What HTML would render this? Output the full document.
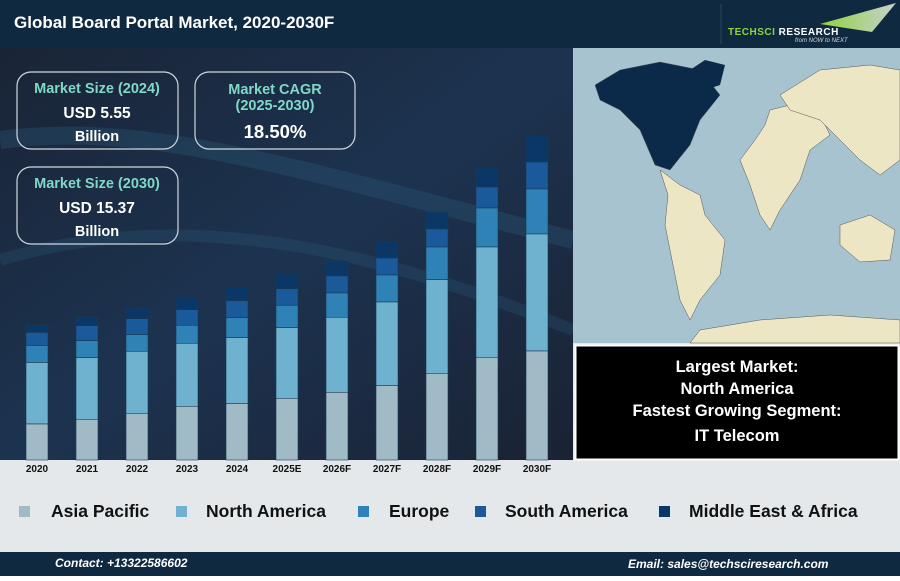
<!DOCTYPE html><html><head><style>
body{margin:0;width:900px;height:576px;overflow:hidden;font-family:"Liberation Sans",sans-serif;}
</style></head><body>
<svg width="900" height="576" xmlns="http://www.w3.org/2000/svg" font-family="Liberation Sans, sans-serif">
<defs>
<linearGradient id="bg" x1="0" y1="0" x2="1" y2="1">
<stop offset="0" stop-color="#1a2436"/><stop offset="0.5" stop-color="#1c3350"/><stop offset="1" stop-color="#1a2233"/>
</linearGradient>
<linearGradient id="lg" x1="0" y1="0" x2="1" y2="0">
<stop offset="0" stop-color="#8fd43a"/><stop offset="1" stop-color="#c8d0d0"/></linearGradient>
</defs>
<rect width="900" height="576" fill="#e4e8ea"/>
<rect x="0" y="0" width="900" height="48" fill="#0f2a40"/>
<text x="14" y="28" fill="#fff" font-size="17" font-weight="bold">Global Board Portal Market, 2020-2030F</text>
<line x1="721" y1="4" x2="721" y2="44" stroke="#2a4258"/>
<polygon points="820,24 896,3 872,32" fill="url(#lg)"/>
<text x="728" y="35" fill="#8fd43a" font-size="10" font-weight="bold" letter-spacing="0.5">TECHSCI <tspan fill="#fff">RESEARCH</tspan></text>
<text x="795" y="42" fill="#cfd8e0" font-size="6" font-style="italic">from NOW to NEXT</text>
<rect x="0" y="48" width="573" height="412" fill="url(#bg)"/>
<path d="M0,140 C150,120 300,170 573,240" stroke="#2a5878" stroke-width="18" fill="none" opacity="0.35"/>
<path d="M0,260 C200,200 400,260 573,330" stroke="#2a5878" stroke-width="12" fill="none" opacity="0.3"/>
<g fill="none" stroke="#d0d8e0" stroke-width="1.2">
<rect x="17" y="72" width="161" height="77" rx="14"/>
<rect x="195" y="72" width="160" height="77" rx="14"/>
<rect x="17" y="167" width="161" height="77" rx="14"/>
</g>
<g font-weight="bold" text-anchor="middle" font-size="14.5">
<text x="97" y="93" fill="#7fd8c8">Market Size (2024)</text>
<text x="97" y="118" fill="#fff" font-size="15.5">USD 5.55</text>
<text x="97" y="141" fill="#fff">Billion</text>
<text x="275" y="94" fill="#7fd8c8">Market CAGR</text>
<text x="275" y="110" fill="#7fd8c8">(2025-2030)</text>
<text x="275" y="138" fill="#fff" font-size="18.5">18.50%</text>
<text x="97" y="188" fill="#7fd8c8">Market Size (2030)</text>
<text x="97" y="213" fill="#fff" font-size="15.5">USD 15.37</text>
<text x="97" y="236" fill="#fff">Billion</text>
</g>
<g stroke="#1a3a55" stroke-width="0.6">
<rect x="26" y="325" width="22" height="7.5" fill="#0b3766"/><rect x="26" y="332.5" width="22" height="13" fill="#1a5a9a"/><rect x="26" y="345.5" width="22" height="17" fill="#2e82b5"/><rect x="26" y="362.5" width="22" height="61.5" fill="#6fb2d0"/><rect x="26" y="424" width="22" height="36" fill="#a0bac6"/>
<rect x="76" y="317" width="22" height="8.7" fill="#0b3766"/><rect x="76" y="325.7" width="22" height="15" fill="#1a5a9a"/><rect x="76" y="340.7" width="22" height="17" fill="#2e82b5"/><rect x="76" y="357.7" width="22" height="61.6" fill="#6fb2d0"/><rect x="76" y="419.3" width="22" height="40.7" fill="#a0bac6"/>
<rect x="126" y="308" width="22" height="10.7" fill="#0b3766"/><rect x="126" y="318.7" width="22" height="16" fill="#1a5a9a"/><rect x="126" y="334.7" width="22" height="16.6" fill="#2e82b5"/><rect x="126" y="351.3" width="22" height="62" fill="#6fb2d0"/><rect x="126" y="413.3" width="22" height="46.7" fill="#a0bac6"/>
<rect x="176" y="297" width="22" height="12.7" fill="#0b3766"/><rect x="176" y="309.7" width="22" height="15.6" fill="#1a5a9a"/><rect x="176" y="325.3" width="22" height="18" fill="#2e82b5"/><rect x="176" y="343.3" width="22" height="63" fill="#6fb2d0"/><rect x="176" y="406.3" width="22" height="53.7" fill="#a0bac6"/>
<rect x="226" y="287" width="22" height="13.7" fill="#0b3766"/><rect x="226" y="300.7" width="22" height="17" fill="#1a5a9a"/><rect x="226" y="317.7" width="22" height="20" fill="#2e82b5"/><rect x="226" y="337.7" width="22" height="66" fill="#6fb2d0"/><rect x="226" y="403.7" width="22" height="56.3" fill="#a0bac6"/>
<rect x="276" y="274" width="22" height="14.7" fill="#0b3766"/><rect x="276" y="288.7" width="22" height="16.6" fill="#1a5a9a"/><rect x="276" y="305.3" width="22" height="22.4" fill="#2e82b5"/><rect x="276" y="327.7" width="22" height="70.6" fill="#6fb2d0"/><rect x="276" y="398.3" width="22" height="61.7" fill="#a0bac6"/>
<rect x="326" y="261" width="22" height="15" fill="#0b3766"/><rect x="326" y="276" width="22" height="17" fill="#1a5a9a"/><rect x="326" y="293" width="22" height="24.3" fill="#2e82b5"/><rect x="326" y="317.3" width="22" height="75" fill="#6fb2d0"/><rect x="326" y="392.3" width="22" height="67.7" fill="#a0bac6"/>
<rect x="376" y="242" width="22" height="16" fill="#0b3766"/><rect x="376" y="258" width="22" height="17" fill="#1a5a9a"/><rect x="376" y="275" width="22" height="27" fill="#2e82b5"/><rect x="376" y="302" width="22" height="83.5" fill="#6fb2d0"/><rect x="376" y="385.5" width="22" height="74.5" fill="#a0bac6"/>
<rect x="426" y="212" width="22" height="17" fill="#0b3766"/><rect x="426" y="229" width="22" height="18" fill="#1a5a9a"/><rect x="426" y="247" width="22" height="32.7" fill="#2e82b5"/><rect x="426" y="279.7" width="22" height="93.6" fill="#6fb2d0"/><rect x="426" y="373.3" width="22" height="86.7" fill="#a0bac6"/>
<rect x="476" y="168" width="22" height="19" fill="#0b3766"/><rect x="476" y="187" width="22" height="21" fill="#1a5a9a"/><rect x="476" y="208" width="22" height="39" fill="#2e82b5"/><rect x="476" y="247" width="22" height="110.3" fill="#6fb2d0"/><rect x="476" y="357.3" width="22" height="102.7" fill="#a0bac6"/>
<rect x="526" y="136" width="22" height="26" fill="#0b3766"/><rect x="526" y="162" width="22" height="27" fill="#1a5a9a"/><rect x="526" y="189" width="22" height="45" fill="#2e82b5"/><rect x="526" y="234" width="22" height="117" fill="#6fb2d0"/><rect x="526" y="351" width="22" height="109" fill="#a0bac6"/>
</g>
<g text-anchor="middle" font-size="10" font-weight="bold" fill="#111">
<text x="37" y="472">2020</text><text x="87" y="472">2021</text><text x="137" y="472">2022</text><text x="187" y="472">2023</text><text x="237" y="472">2024</text><text x="287" y="472">2025E</text><text x="337" y="472">2026F</text><text x="387" y="472">2027F</text><text x="437" y="472">2028F</text><text x="487" y="472">2029F</text><text x="537" y="472">2030F</text>
</g>
<rect x="573" y="48" width="327" height="295" fill="#a7c3cf"/>
<g fill="#ece6c4" stroke="#555" stroke-width="0.5">
<polygon points="660,170 680,185 700,195 705,215 725,240 720,275 700,300 690,320 680,300 672,260 665,225 668,195"/>
<polygon points="770,110 790,105 820,115 830,135 810,150 800,180 780,210 770,230 760,215 750,185 740,160 755,140 765,125"/>
<polygon points="780,95 820,70 870,65 900,70 900,160 880,175 860,160 840,140 820,120 790,110"/>
<polygon points="840,225 870,215 895,230 890,260 860,262 840,245"/>
<polygon points="700,330 760,320 830,315 900,320 900,343 690,343"/>
</g>
<polygon points="595,85 620,70 660,62 700,70 720,95 700,120 690,145 670,170 655,165 640,130 620,110 600,100" fill="#0b2a4a" stroke="#555" stroke-width="0.5"/>
<polygon points="690,70 705,60 725,65 720,85 705,90" fill="#0b2a4a"/>
<rect x="575.5" y="345.5" width="323" height="114" fill="#000" stroke="#fff" stroke-width="2"/>
<g fill="#fff" font-size="16.5" font-weight="bold" text-anchor="middle">
<text x="737" y="372">Largest Market:</text>
<text x="737" y="394">North America</text>
<text x="737" y="416">Fastest Growing Segment:</text>
<text x="737" y="441">IT Telecom</text>
</g>
<g font-size="17.5" font-weight="bold" fill="#111">
<rect x="19" y="506" width="11" height="11" fill="#a0bac6"/><text x="51" y="517">Asia Pacific</text>
<rect x="176" y="506" width="11" height="11" fill="#6fb2d0"/><text x="206" y="517">North America</text>
<rect x="358" y="506" width="11" height="11" fill="#2e82b5"/><text x="389" y="517">Europe</text>
<rect x="475" y="506" width="11" height="11" fill="#1a5a9a"/><text x="505" y="517">South America</text>
<rect x="659" y="506" width="11" height="11" fill="#0b3766"/><text x="689" y="517">Middle East &amp; Africa</text>
</g>
<rect x="0" y="552" width="900" height="24" fill="#0f2a40"/>
<g fill="#fff" font-size="12" font-weight="bold" font-style="italic">
<text x="55" y="567">Contact: +13322586602</text>
<text x="628" y="568">Email: sales@techsciresearch.com</text>
</g>
</svg>
</body></html>
